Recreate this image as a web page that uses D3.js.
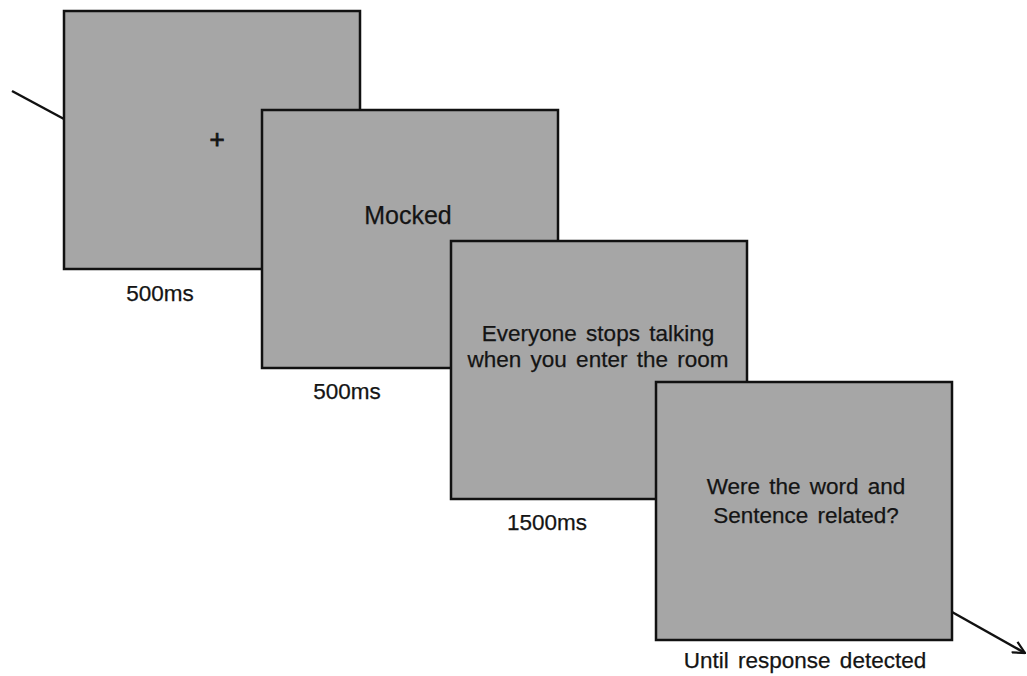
<!DOCTYPE html>
<html>
<head>
<meta charset="utf-8">
<script src="https://cdn.jsdelivr.net/npm/d3@7"></script>
<style>
  html, body { margin: 0; padding: 0; background: #fff; }
  svg { display: block; }
  text { font-family: "Liberation Sans", Arial, sans-serif; fill: #141414; stroke: #141414; stroke-width: 0.25; }
</style>
</head>
<body>
<script>
// ---- data ----
const screens = ["fixation", "word", "sentence", "question"];
const screenLines = [["+"], ["Mocked"], ["Everyone stops talking", "when you enter the room"], ["Were the word and", "Sentence related?"]];
const durations = ["500ms", "500ms", "1500ms", "Until response detected"];

// ---- layout (positions only) ----
const W = 1027, H = 676;
const boxLeft = [64, 262, 451, 656];
const boxTop = [11, 110, 241, 382];
const boxW = 296, boxH = 258;
const textX = [217, 408, 598, 806];
const textY = [[148], [224], [341, 367], [494, 523]];
const textSize = [26, 25, 22.5, 22.5];
const durX = [160, 347, 547, 805];
const durY = [301, 399, 530, 668];

const x = d3.scaleOrdinal().domain(screens).range(boxLeft);
const y = d3.scaleOrdinal().domain(screens).range(boxTop);

const svg = d3.select("body").append("svg").attr("width", W).attr("height", H);

svg.append("defs").append("marker")
  .attr("id", "arr").attr("viewBox", "0 0 14 14").attr("refX", 13).attr("refY", 7)
  .attr("markerWidth", 14).attr("markerHeight", 14).attr("markerUnits", "userSpaceOnUse")
  .attr("orient", "auto")
  .append("path").attr("d", "M1,1 L13,7 L1,13").attr("fill", "none").attr("stroke", "#111").attr("stroke-width", 2.2);

// incoming arrow line
svg.append("line").attr("x1", 12).attr("y1", 91).attr("x2", 64).attr("y2", 119)
  .attr("stroke", "#111").attr("stroke-width", 2.5);

// outgoing arrow
svg.append("line").attr("x1", 952).attr("y1", 612).attr("x2", 1025).attr("y2", 653)
  .attr("stroke", "#111").attr("stroke-width", 2.5).attr("marker-end", "url(#arr)");

const g = svg.selectAll("g.screen").data(screens).join("g").attr("class", "screen");

g.append("rect")
  .attr("x", d => x(d)).attr("y", d => y(d))
  .attr("width", boxW).attr("height", boxH)
  .attr("fill", "#a6a6a6").attr("stroke", "#111").attr("stroke-width", 2.5);

g.each(function(d, i) {
  const sel = d3.select(this);
  screenLines[i].forEach((t, j) => {
    sel.append("text")
      .attr("x", textX[i]).attr("y", textY[i][j])
      .attr("text-anchor", "middle")
      .attr("font-size", textSize[i])
      .attr("word-spacing", i >= 2 ? 3 : 0)
      .style("stroke-width", i === 0 ? 0.8 : null)
      .text(t);
  });
  sel.append("text")
    .attr("x", durX[i]).attr("y", durY[i])
    .attr("text-anchor", "middle")
    .attr("font-size", 22.5)
    .attr("word-spacing", i === 3 ? 3 : 0)
    .text(durations[i]);
});
</script>
</body>
</html>
